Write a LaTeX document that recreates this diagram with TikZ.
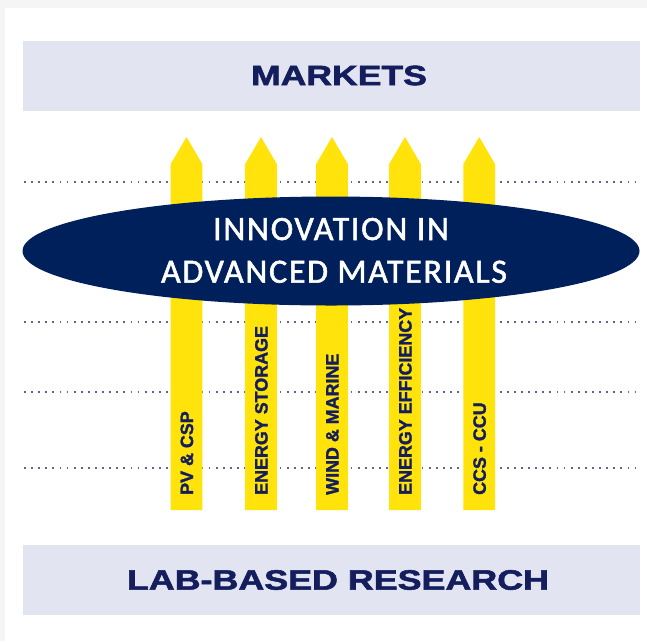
\documentclass[tikz,border=0pt]{standalone}
\usepackage{fontspec}
\setmainfont{Liberation Sans}
\newfontfamily\calib{Carlito}[LetterSpace=5,FakeBold=1.6]
\newfontfamily\heavy{Liberation Sans Bold}[FakeBold=1.8]
\newfontfamily\heavylab{Liberation Sans Bold}[FakeBold=1.6]
\definecolor{bggrey}{HTML}{F5F5F5}
\definecolor{band}{HTML}{E2E4F2}
\definecolor{navytxt}{HTML}{141E5C}
\definecolor{ellnavy}{HTML}{00205B}
\definecolor{arrowyellow}{HTML}{FFE30A}
\definecolor{dotgrey}{HTML}{5E6294}
\begin{document}
\begin{tikzpicture}[x=1pt,y=-1pt,
  bandbox/.style={fill=band,draw=none},
  headtext/.style={text=navytxt,font=\heavy\fontsize{28}{30}\selectfont,inner sep=0pt},
  dotline/.style={draw=dotgrey,line width=1.8pt,dash pattern=on 1.8pt off 5.3pt},
  arrowshape/.style={fill=arrowyellow,draw=none},
  arrowlabel/.style={text=navytxt,font=\heavylab\fontsize{17.9}{18}\selectfont,rotate=90,anchor=west,inner sep=0pt},
  elltext/.style={text=white,font=\calib\fontsize{34}{36}\selectfont,inner sep=0pt,anchor=base}]
\useasboundingbox (0,0) rectangle (647,641);
\fill[bggrey] (0,0) rectangle (647,641);
\fill[white] (4.5,8) rectangle (647,641);
% bands
\fill[bandbox] (23,41) rectangle (640,111);
\fill[bandbox] (23,545) rectangle (640,615);
\node[headtext] (markets) at (339,75.5) {\scalebox{1.27}[1]{MARKETS}};
\node[headtext] (lab) at (338,580) {\scalebox{1.28}[1]{LAB-BASED RESEARCH}};
% dotted lines
\foreach \yy in {181.7,321.7,391.7,468.3}
  \draw[dotline] (24,\yy) -- (637,\yy);
% arrows
\foreach \cx/\lab/\nm in {186.5/{PV \& CSP}/a1,261/{ENERGY STORAGE}/a2,332/{WIND \& MARINE}/a3,405/{ENERGY EFFICIENCY}/a4,479.2/{CCS - CCU}/a5}{
  \fill[arrowshape] (\cx-15.8,510) -- (\cx-15.8,164) -- (\cx,137) -- (\cx+15.8,164) -- (\cx+15.8,510) -- cycle;
  \node[arrowlabel] (\nm) at (\cx+0.4,495) {\lab};
}
% ellipse
\fill[ellnavy] (331,251) ellipse [x radius=308.5, y radius=54.5];
\node[elltext] (l1) at (331,240) {INNOVATION IN};
\node[elltext] (l2) at (334,282.7) {ADVANCED MATERIALS};
\end{tikzpicture}
\end{document}
